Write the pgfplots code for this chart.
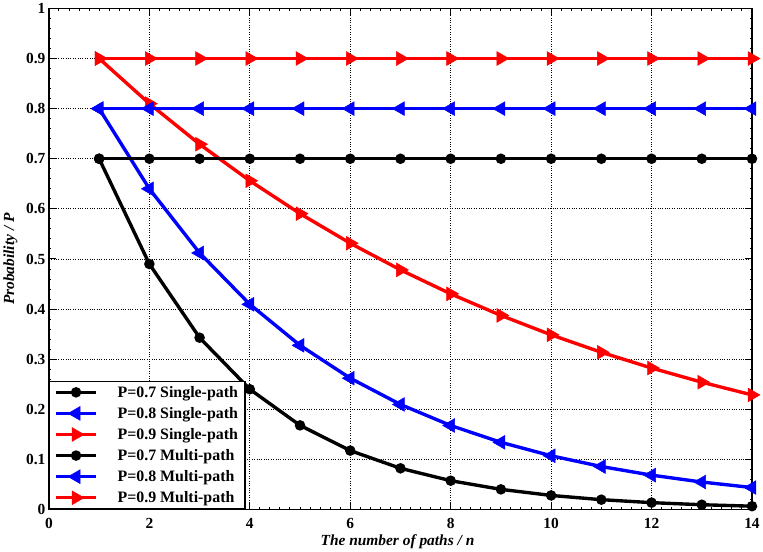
\documentclass[border=0pt]{standalone}
\usepackage{fontspec}
\setmainfont{Liberation Serif}
\usepackage{pgfplots}
\pgfplotsset{compat=1.18}
\begin{document}
\begin{tikzpicture}
\begin{axis}[
  width=707pt, height=504pt, scale only axis,
  xmin=0, xmax=14, ymin=0, ymax=1,
  xtick={0,2,4,6,8,10,12,14},
  ytick={0,0.1,0.2,0.3,0.4,0.5,0.6,0.7,0.8,0.9,1},
  yticklabels={0,0.1,0.2,0.3,0.4,0.5,0.6,0.7,0.8,0.9,1},
  minor x tick num=9, minor y tick num=4,
  minor tick length=2.5pt,
  grid=major, grid style={black, dotted, line width=0.8pt},
  minor grid style={draw=none},
  axis line style={line width=1.8pt},
  tick style={black, line width=1pt},
  major tick length=7pt,
  tick align=inside,
  /pgf/number format/assume math mode=true,
  ticklabel style={font=\fontsize{15.5}{17}\selectfont\bfseries},
  xticklabel style={yshift=-5pt},
  xlabel={\textbf{\textit{The number of paths / n}}},
  ylabel={\textbf{\textit{Probability / P}}},
  label style={font=\fontsize{15.5}{17}\selectfont},
  xlabel style={yshift=1pt, xshift=-3pt},
  ylabel style={yshift=2pt},
  legend style={at={(0,0)}, anchor=south west, draw=black, line width=1.2pt,
    font=\fontsize{16}{18}\selectfont\bfseries, row sep=4.6pt,
    inner xsep=5pt, inner ysep=3pt},
  legend cell align=left,
  legend image code/.code={\path (0pt,0pt) (58pt,0pt); \draw[#1] (0pt,0pt) -- (20pt,0pt) -- (40pt,0pt); \draw[#1, only marks] plot coordinates {(20pt,0pt)};},
  every axis plot/.append style={line width=3.4pt},
]
% Single-path
\addplot[black, mark=*, mark size=3.5pt] coordinates {
(1,0.7) (2,0.49) (3,0.343) (4,0.2401) (5,0.16807) (6,0.117649) (7,0.0823543)
(8,0.057648) (9,0.040354) (10,0.028248) (11,0.019773) (12,0.013841) (13,0.009689) (14,0.006782)};
\addlegendentry{P=0.7 Single-path}
\addplot[blue, mark=triangle*, mark size=8pt, mark options={rotate=90, line width=0.5pt}] coordinates {
(1,0.8) (2,0.64) (3,0.512) (4,0.4096) (5,0.32768) (6,0.262144) (7,0.209715)
(8,0.167772) (9,0.134218) (10,0.107374) (11,0.085899) (12,0.068719) (13,0.054976) (14,0.04398)};
\addlegendentry{P=0.8 Single-path}
\addplot[red, mark=triangle*, mark size=8pt, mark options={rotate=-90, line width=0.5pt}] coordinates {
(1,0.9) (2,0.81) (3,0.729) (4,0.6561) (5,0.59049) (6,0.531441) (7,0.478297)
(8,0.430467) (9,0.38742) (10,0.348678) (11,0.313811) (12,0.28243) (13,0.254187) (14,0.228768)};
\addlegendentry{P=0.9 Single-path}
% Multi-path
\addplot[black, mark=*, mark size=3.5pt] coordinates {
(1,0.7) (2,0.7) (3,0.7) (4,0.7) (5,0.7) (6,0.7) (7,0.7)
(8,0.7) (9,0.7) (10,0.7) (11,0.7) (12,0.7) (13,0.7) (14,0.7)};
\addlegendentry{P=0.7 Multi-path}
\addplot[blue, mark=triangle*, mark size=8pt, mark options={rotate=90, line width=0.5pt}] coordinates {
(1,0.8) (2,0.8) (3,0.8) (4,0.8) (5,0.8) (6,0.8) (7,0.8)
(8,0.8) (9,0.8) (10,0.8) (11,0.8) (12,0.8) (13,0.8) (14,0.8)};
\addlegendentry{P=0.8 Multi-path}
\addplot[red, mark=triangle*, mark size=8pt, mark options={rotate=-90, line width=0.5pt}] coordinates {
(1,0.9) (2,0.9) (3,0.9) (4,0.9) (5,0.9) (6,0.9) (7,0.9)
(8,0.9) (9,0.9) (10,0.9) (11,0.9) (12,0.9) (13,0.9) (14,0.9)};
\addlegendentry{P=0.9 Multi-path}
\end{axis}
\end{tikzpicture}
\end{document}
